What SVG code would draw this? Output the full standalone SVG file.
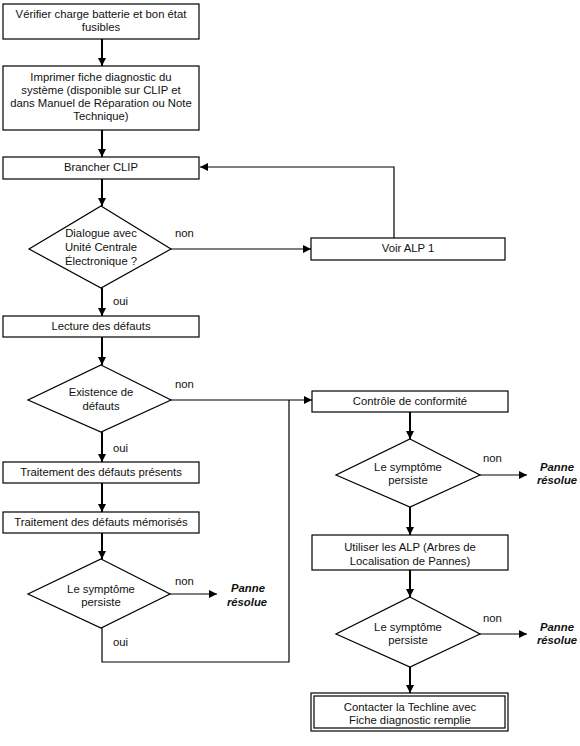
<svg xmlns="http://www.w3.org/2000/svg" width="580" height="746" viewBox="0 0 580 746">
<defs>
<marker id="ah" viewBox="0 0 10 10" refX="10" refY="5" markerWidth="8" markerHeight="8" markerUnits="userSpaceOnUse" orient="auto">
<path d="M0,0 L10,5 L0,10 z" fill="#000"/>
</marker>
<style>
text{font-family:"Liberation Sans",Arial,sans-serif;font-size:11.3px;fill:#111;text-anchor:middle;dominant-baseline:middle}
.box{fill:#fff;stroke:#000;stroke-width:1.2}
.dia{fill:#fff;stroke:#000;stroke-width:1.2}
.v{stroke:#000;stroke-width:2;fill:none}
.h{stroke:#000;stroke-width:1.2;fill:none}
.lbl{text-anchor:start}
.res{font-weight:bold;font-style:italic}
</style>
</defs>
<rect width="580" height="746" fill="#fff"/>
<g id="connectors">
<line class="v" x1="102" y1="39" x2="102" y2="66" marker-end="url(#ah)"/>
<line class="v" x1="102" y1="130" x2="102" y2="157" marker-end="url(#ah)"/>
<line class="v" x1="102" y1="179" x2="102" y2="206" marker-end="url(#ah)"/>
<line class="h" x1="171" y1="249" x2="311" y2="249" marker-end="url(#ah)"/>
<polyline class="h" points="394,238 394,167 200,167" marker-end="url(#ah)"/>
<line class="v" x1="102" y1="288" x2="102" y2="316" marker-end="url(#ah)"/>
<line class="v" x1="102" y1="337" x2="102" y2="365" marker-end="url(#ah)"/>
<line class="h" x1="171" y1="400" x2="312" y2="400" marker-end="url(#ah)"/>
<line class="v" x1="102" y1="432" x2="102" y2="462" marker-end="url(#ah)"/>
<line class="v" x1="102" y1="483" x2="102" y2="512" marker-end="url(#ah)"/>
<line class="v" x1="102" y1="533" x2="102" y2="559" marker-end="url(#ah)"/>
<line class="h" x1="170" y1="594" x2="217" y2="594" marker-end="url(#ah)"/>
<polyline class="h" points="102,628 102,662 289,662 289,400"/>
<line class="v" x1="410" y1="412" x2="410" y2="439" marker-end="url(#ah)"/>
<line class="h" x1="480" y1="475" x2="527" y2="475" marker-end="url(#ah)"/>
<line class="v" x1="410" y1="507" x2="410" y2="535" marker-end="url(#ah)"/>
<line class="v" x1="410" y1="570" x2="410" y2="597" marker-end="url(#ah)"/>
<line class="h" x1="480" y1="634" x2="527" y2="634" marker-end="url(#ah)"/>
<line class="v" x1="410" y1="667" x2="410" y2="693" marker-end="url(#ah)"/>
</g>
<g id="labels">
<text class="lbl" x="175" y="234">non</text>
<text class="lbl" x="113" y="302">oui</text>
<text class="lbl" x="175" y="385">non</text>
<text class="lbl" x="113" y="449">oui</text>
<text class="lbl" x="175" y="582">non</text>
<text class="lbl" x="113" y="643">oui</text>
<text class="lbl" x="483" y="459">non</text>
<text class="lbl" x="483" y="619">non</text>
</g>
<g id="n1"><rect class="box" x="3" y="4" width="196" height="35"/><text x="101" y="15">Vérifier charge batterie et bon état</text><text x="101" y="28">fusibles</text></g>
<g id="n2"><rect class="box" x="3" y="66" width="196" height="64"/><text x="101" y="78">Imprimer fiche diagnostic du</text><text x="101" y="91">système (disponible sur CLIP et</text><text x="101" y="104">dans Manuel de Réparation ou Note</text><text x="101" y="117">Technique)</text></g>
<g id="n3"><rect class="box" x="3" y="157" width="196" height="22"/><text x="101" y="168">Brancher CLIP</text></g>
<g id="d1"><polygon class="dia" points="101,206 171,249 101,288 29,249"/><text x="101" y="234">Dialogue avec</text><text x="101" y="248">Unité Centrale</text><text x="101" y="262">Électronique ?</text></g>
<g id="n4"><rect class="box" x="311" y="238" width="194" height="22"/><text x="408" y="249">Voir ALP 1</text></g>
<g id="n5"><rect class="box" x="3" y="316" width="196" height="21"/><text x="101" y="327">Lecture des défauts</text></g>
<g id="d2"><polygon class="dia" points="101,365 171,400 101,432 28,400"/><text x="101" y="393">Existence de</text><text x="101" y="407">défauts</text></g>
<g id="n6"><rect class="box" x="3" y="462" width="196" height="21"/><text x="101" y="473">Traitement des défauts présents</text></g>
<g id="n7"><rect class="box" x="3" y="512" width="196" height="21"/><text x="101" y="523">Traitement des défauts mémorisés</text></g>
<g id="d3"><polygon class="dia" points="101,559 170,594 101,628 28,594"/><text x="101" y="590">Le symptôme</text><text x="101" y="603">persiste</text></g>
<g id="r1"><text class="res" x="248" y="589">Panne</text><text class="res" x="247" y="603">résolue</text></g>
<g id="n8"><rect class="box" x="312" y="391" width="196" height="21"/><text x="410" y="402">Contrôle de conformité</text></g>
<g id="d4"><polygon class="dia" points="410,439 480,475 410,507 336,475"/><text x="408" y="468">Le symptôme</text><text x="408" y="481">persiste</text></g>
<g id="r2"><text class="res" x="557" y="468">Panne</text><text class="res" x="557" y="481">résolue</text></g>
<g id="n9"><rect class="box" x="312" y="535" width="196" height="35"/><text x="410" y="548">Utiliser les ALP (Arbres de</text><text x="410" y="562">Localisation de Pannes)</text></g>
<g id="d5"><polygon class="dia" points="410,597 480,634 410,667 336,634"/><text x="408" y="628">Le symptôme</text><text x="408" y="641">persiste</text></g>
<g id="r3"><text class="res" x="557" y="628">Panne</text><text class="res" x="557" y="641">résolue</text></g>
<g id="n10"><rect class="box" x="311" y="693" width="197" height="38"/><rect class="box" x="314" y="696" width="191" height="32"/><text x="410" y="708">Contacter la Techline avec</text><text x="410" y="721">Fiche diagnostic remplie</text></g>
</svg>
